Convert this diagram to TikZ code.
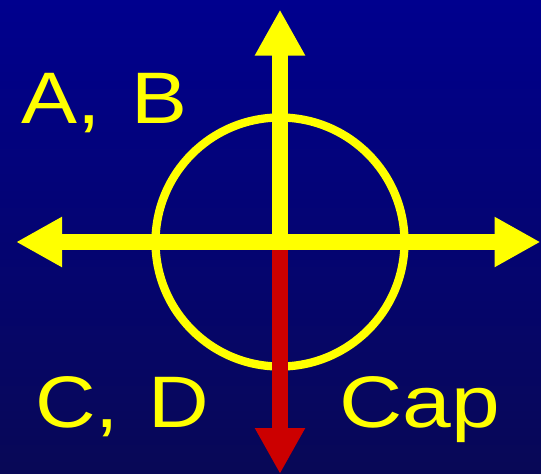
\documentclass[tikz,border=0pt]{standalone}
\usepackage{fontspec}
\setmainfont{Liberation Sans}
\usetikzlibrary{arrows.meta}
\definecolor{bgtop}{RGB}{0,0,142}
\definecolor{bgbot}{RGB}{8,8,86}
\definecolor{ylw}{RGB}{255,255,0}
\definecolor{rd}{RGB}{204,0,0}
\tikzset{
  bigarrow/.style={line width=16pt, -{Triangle[length=46pt,width=47pt]}},
  lbl/.style={text=ylw, inner sep=0pt, anchor=base west, font=\fontsize{73}{80}\selectfont, xscale=1.15},
}
\begin{document}
\begin{tikzpicture}[x=1pt,y=-1pt]
\useasboundingbox (0,0) rectangle (541,474);
\shade[top color=bgtop, bottom color=bgbot] (0,0) rectangle (541,474);
\coordinate (c) at (280,242);
\coordinate (n) at (280,9.5);
\coordinate (s) at (280,474);
\coordinate (w) at (16,242);
\coordinate (e) at (540.5,242);
\node[draw=ylw, line width=8.3pt, circle, minimum size=249pt, inner sep=0pt] (ring) at (c) {};
\draw[bigarrow, draw=rd, fill=rd] (c) -- (s);
\draw[bigarrow, draw=ylw, fill=ylw] (c) -- (w);
\draw[bigarrow, draw=ylw, fill=ylw] (c) -- (e);
\draw[bigarrow, draw=ylw, fill=ylw] (c) -- (n);
\node[lbl] (ab) at (21.7,123.3) {A, \hspace{6pt}B};
\node[lbl] (cd) at (35.1,427.7) {C, \hspace{5pt}D};
\node[lbl, xscale=1.2/1.15] (cap) at (339.1,427.7) {Cap};
\end{tikzpicture}
\end{document}
